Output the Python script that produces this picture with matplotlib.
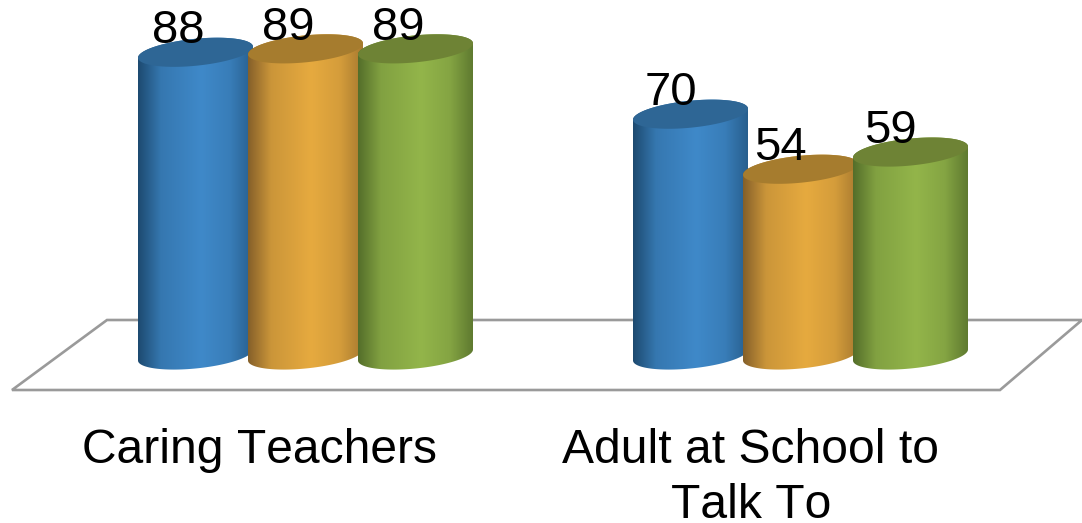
import numpy as np
import matplotlib
matplotlib.use("Agg")
import matplotlib.pyplot as plt
from matplotlib.colors import LinearSegmentedColormap, to_rgb
from matplotlib.patches import PathPatch, Polygon
from matplotlib.path import Path

categories = ["Caring Teachers", "Adult at School to\nTalk To"]
series_a = [88, 70]
series_b = [89, 54]
series_c = [89, 59]

W, H = 1082, 523
PX_PER_X = 495.0      # pixels per category step
PX_PER_Y = 3.44       # pixels per value unit
X0_PX, Y0_PX = 305.5, 355.0
plt.rcParams["font.family"] = ["Liberation Sans", "DejaVu Sans"]
plt.rcParams["text.kerning_factor"] = 20

fig = plt.figure(figsize=(W / 100, H / 100), dpi=100)
ax = fig.add_axes([0, 0, 1, 1])
xlim = (-X0_PX / PX_PER_X, (W - X0_PX) / PX_PER_X)
ylim = ((Y0_PX - H) / PX_PER_Y, Y0_PX / PX_PER_Y)
ax.axis("off")

def dx(px):
    return px / PX_PER_X

def dy(px):
    return px / PX_PER_Y

def from_px(x, y):
    return (x - X0_PX) / PX_PER_X, (Y0_PX - y) / PX_PER_Y

def blend(c1, c2, f):
    a, b = np.array(to_rgb(c1)), np.array(to_rgb(c2))
    return tuple(a + (b - a) * f)

# floor
floor_px = [(107, 320), (1082, 320), (1000, 390), (12, 390)]
ax.add_patch(Polygon([from_px(*p) for p in floor_px], closed=True, fc="white",
                     ec="#9a9a9a", lw=1.9, zorder=1))

styles = [
    dict(edge_l="#1d4a70", mid="#3f89c9", edge_r="#285f8e", top="#2e6695"),
    dict(edge_l="#85602a", mid="#e6aa3f", edge_r="#a87a30", top="#a67c2e"),
    dict(edge_l="#546e2a", mid="#93b54a", edge_r="#5f7a30", top="#6e8335"),
]
A, B, TILT = 57.5, 13.5, 5.5 / 57.5

def ellipse(cx, val, tt):
    x = cx + dx(A) * np.cos(tt)
    y = val + dy(B * np.sin(tt) + TILT * A * np.cos(tt))
    return x, y

def draw_cylinder(cx, val, st, z):
    tb = np.linspace(np.pi, 2 * np.pi, 60)
    tt = np.linspace(0, np.pi, 60)
    xb, yb = ellipse(cx, 0, tb)
    xt, yt = ellipse(cx, val, tt)
    verts = np.column_stack([np.r_[xb, xt], np.r_[yb, yt]])
    clip = PathPatch(Path(np.r_[verts, verts[:1]], closed=True),
                     transform=ax.transData, fc="none", ec="none")
    ax.add_patch(clip)
    cmap = LinearSegmentedColormap.from_list("c", [
        (0, st["edge_l"]), (0.2, blend(st["edge_l"], st["mid"], 0.72)),
        (0.55, st["mid"]), (0.8, blend(st["edge_r"], st["mid"], 0.72)),
        (1, st["edge_r"])])
    grad = np.linspace(0, 1, 256)[None, :]
    im = ax.imshow(grad, cmap=cmap, aspect="auto", zorder=z,
                   extent=[cx - dx(A), cx + dx(A), dy(-30), val + dy(30)],
                   interpolation="bilinear")
    im.set_clip_path(clip)
    xe, ye = ellipse(cx, val, np.linspace(0, 2 * np.pi, 121))
    ax.fill(xe, ye, fc=st["top"], ec="none", zorder=z + 0.1)

offsets = [-110, 0, 110]
for s, (vals, st) in enumerate(zip([series_a, series_b, series_c], styles)):
    for c, v in enumerate(vals):
        draw_cylinder(c + dx(offsets[s]), v, st, 2 + s + c * 0.1)

ax.set_xlim(*xlim)
ax.set_ylim(*ylim)

# value labels
for s, vals in enumerate([series_a, series_b, series_c]):
    for c, v in enumerate(vals):
        shift = -17.5 if c == 0 else -20
        ax.annotate(str(v), (c + dx(offsets[s]), v), xytext=(shift * 0.72, 21 * 0.72),
                    textcoords="offset points", ha="center", va="center",
                    fontsize=34, color="black", zorder=10)

# category labels
label_x = [259, 751]
for c, lab in enumerate(categories):
    for i, ln in enumerate(lab.split("\n")):
        x, y = from_px(label_x[c], 463 + i * 55)
        ax.text(x, y, ln, ha="center", va="baseline", fontsize=34.6,
                color="black", zorder=10)

fig.savefig("out.png", dpi=100)
